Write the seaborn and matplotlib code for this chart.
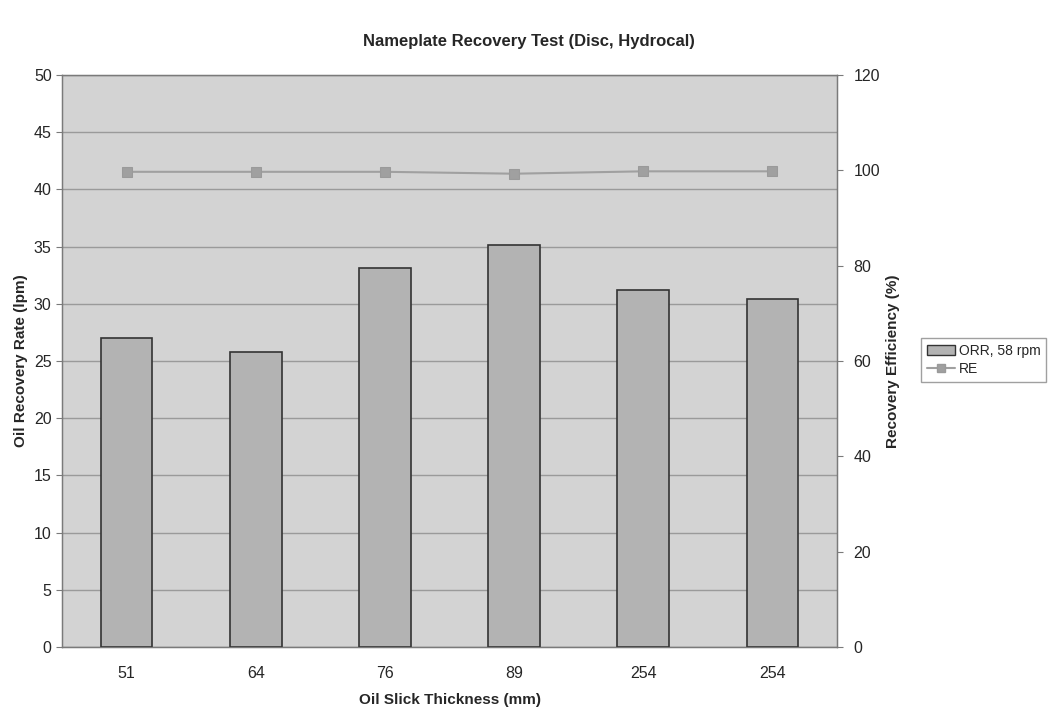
import matplotlib
matplotlib.use("Agg")
import matplotlib.pyplot as plt
import seaborn as sns
import pandas as pd
from matplotlib.lines import Line2D
from matplotlib.patches import Patch

thickness = ["51", "64", "76", "89", "254", "254"]
orr = [27.0, 25.8, 33.1, 35.1, 31.2, 30.4]
re = [99.7, 99.7, 99.7, 99.3, 99.8, 99.8]

sns.set_style("white")
plt.rcParams['font.family'] = ['Liberation Sans', 'DejaVu Sans']

df = pd.DataFrame({"idx": list(range(len(thickness))), "ORR": orr, "RE": re})

fig = plt.figure(figsize=(10.57, 7.10), dpi=100)
ax = fig.add_axes([0.0587, 0.0887, 0.7332, 0.8056])
ax.set_facecolor("#d3d3d3")

sns.barplot(data=df, x="idx", y="ORR", ax=ax, color="#b3b3b3", width=0.4,
            edgecolor="#333333", linewidth=1.2, saturation=1, zorder=3)
ax.set_xlim(-0.5, len(thickness) - 0.5)
ax.set_ylim(0, 50)
ax.set_yticks(range(0, 51, 5))
ax.set_xticks(range(len(thickness)))
ax.set_xticklabels(thickness)
ax.yaxis.grid(True, color="#9a9a9a", linewidth=1.0, zorder=0)
ax.set_axisbelow(True)
for s in ax.spines.values():
    s.set_color("#7a7a7a")
    s.set_linewidth(1.0)
ax.tick_params(axis="both", labelsize=11.5, length=4, color="#7a7a7a", direction="out")
ax.tick_params(axis="x", pad=10)
ax.set_xlabel("Oil Slick Thickness (mm)", fontsize=11, fontweight="bold", labelpad=8)
ax.set_ylabel("Oil Recovery Rate (lpm)", fontsize=11, fontweight="bold")

ax2 = ax.twinx()
sns.lineplot(data=df, x="idx", y="RE", ax=ax2, color="#a0a0a0", marker="s",
             markersize=7, markeredgecolor="#9a9a9a", linewidth=1.5, zorder=4)
ax2.set_ylim(0, 120)
ax2.set_yticks(range(0, 121, 20))
ax2.set_xlim(-0.5, len(thickness) - 0.5)
ax2.set_ylabel("Recovery Efficiency (%)", fontsize=11, fontweight="bold", labelpad=4)
ax2.tick_params(axis="y", labelsize=11.5, length=4, color="#7a7a7a", pad=8)
for s in ax2.spines.values():
    s.set_color("#7a7a7a")

fig.suptitle("Nameplate Recovery Test (Disc, Hydrocal)", x=0.5, y=0.952,
             fontsize=12, fontweight="bold")

handles = [Patch(facecolor="#b3b3b3", edgecolor="#333333", label="ORR, 58 rpm"),
           Line2D([0], [0], color="#a0a0a0", marker="s", markersize=6,
                  markeredgecolor="#9a9a9a", label="RE")]
fig.legend(handles=handles, loc="center left", bbox_to_anchor=(0.865, 0.493),
           fontsize=10, frameon=True, fancybox=False, edgecolor="#888888",
           handlelength=2.0, handletextpad=0.3, borderpad=0.4, labelspacing=0.3)

fig.savefig("out.png", dpi=100, facecolor="white")
